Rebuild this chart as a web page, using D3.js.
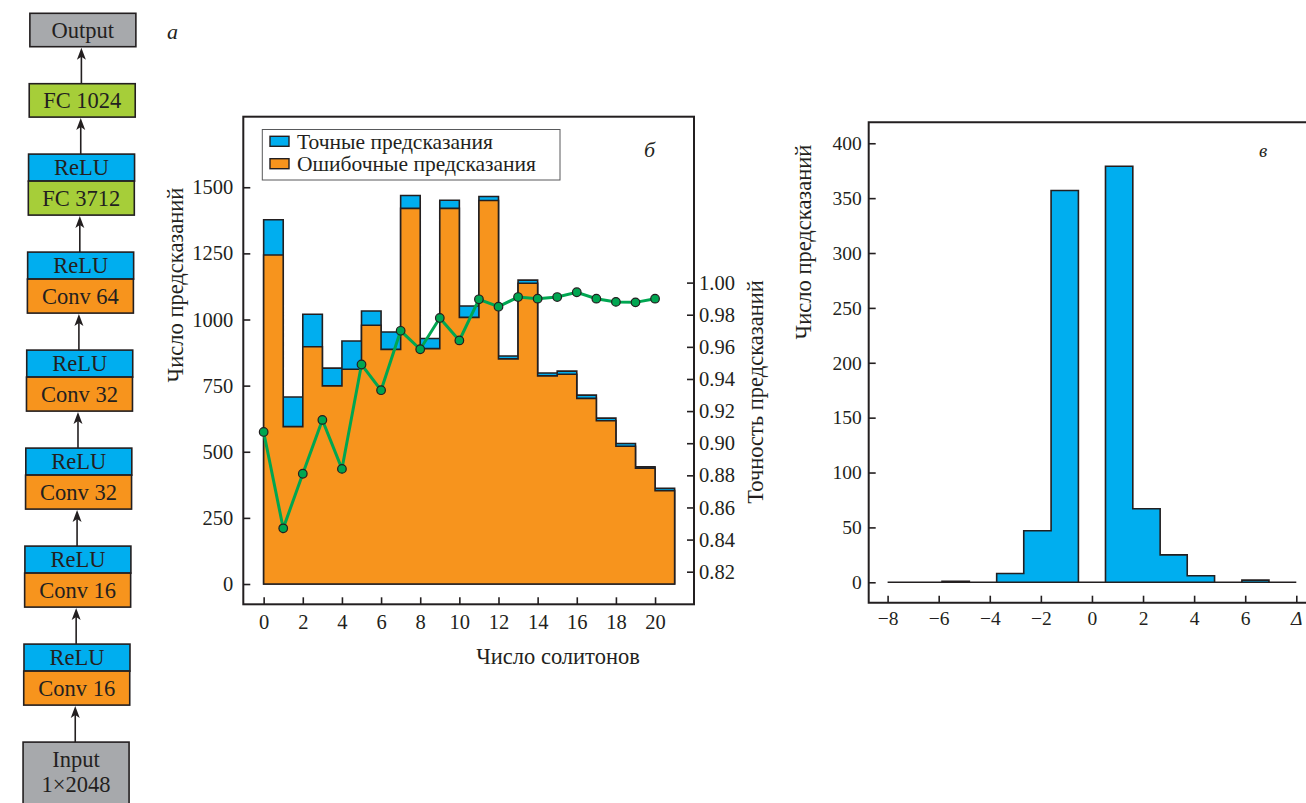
<!DOCTYPE html>
<html>
<head>
<meta charset="utf-8">
<script src="https://cdn.jsdelivr.net/npm/d3@7"></script>
<style>
  body { margin: 0; background: #fff; }
  svg text { font-family: "Liberation Serif", "DejaVu Serif", serif; fill: #231f20; }
</style>
</head>
<body>
<script>
// ---------- data ----------
// network diagram, top to bottom
const layerNames = ["Output", "FC 1024", "FC 3712", "Conv 64", "Conv 32", "Conv 32", "Conv 16", "Conv 16", "Input|1×2048"];
const layerKinds = ["io", "fc", "fc", "conv", "conv", "conv", "conv", "conv", "io"];
const layerRelu = [false, false, true, true, true, true, true, true, false];

// panel б: histogram over number of solitons
const solitons = [0, 1, 2, 3, 4, 5, 6, 7, 8, 9, 10, 11, 12, 13, 14, 15, 16, 17, 18, 19, 20];
const totalCounts = [1377, 707, 1020, 816, 919, 1032, 953, 1469, 928, 1451, 1051, 1465, 862, 1149, 798, 805, 714, 627, 531, 443, 362];
const orangeCounts = [1244, 595, 897, 749, 812, 978, 887, 1420, 890, 1420, 1008, 1450, 851, 1137, 787, 793, 702, 617, 521, 438, 353];
const accuracy = [0.907, 0.847, 0.881, 0.9145, 0.884, 0.949, 0.933, 0.970, 0.9585, 0.978, 0.964, 0.9896, 0.985, 0.991, 0.990, 0.991, 0.994, 0.990, 0.988, 0.9877, 0.990];
const countTicks = [0, 250, 500, 750, 1000, 1250, 1500];
const accTicks = [0.82, 0.84, 0.86, 0.88, 0.90, 0.92, 0.94, 0.96, 0.98, 1.00];
const solitonTicks = [0, 2, 4, 6, 8, 10, 12, 14, 16, 18, 20];

// panel в: histogram of error Δ
const deltaEdges = [-8, -6.93, -5.87, -4.8, -3.73, -2.67, -1.6, -0.53, 0.53, 1.6, 2.67, 3.73, 4.8, 5.87, 6.93, 8];
const deltaCounts = [0, 0, 1, 0, 8, 47, 357, 0, 379, 67, 25, 6, 0, 2, 0];
const deltaYTicks = [0, 50, 100, 150, 200, 250, 300, 350, 400];
const deltaXTicks = [-8, -6, -4, -2, 0, 2, 4, 6, 8];

const colors = { io: "#a7a9ac", fc: "#a6ce39", conv: "#f7941d", relu: "#00aeef" };
const ink = "#231f20";

const svg = d3.select("body").append("svg")
  .attr("width", 1306)
  .attr("height", 803);

// ---------- а: network diagram ----------
var skew = d3.scaleLinear().domain([0, 803]).range([30, 22.5]);
var boxW = 106, reluH = 27, mainH = 34, singleH = 33.4, gap = 37;
var yCur = 13.3;
var groups = [];
layerNames.forEach(function(name, i) {
  var top = yCur;
  var boxes = [];
  if (layerRelu[i]) {
    boxes.push({ y: yCur, h: reluH, label: ["ReLU"], fill: colors.relu });
    yCur += reluH;
    boxes.push({ y: yCur, h: mainH, label: [name], fill: colors[layerKinds[i]] });
    yCur += mainH;
  } else if (name.indexOf("|") >= 0) {
    // input block runs off the bottom of the page
    boxes.push({ y: yCur, h: 90, textMid: 30, label: name.split("|"), fill: colors[layerKinds[i]] });
    yCur += 90;
  } else {
    boxes.push({ y: yCur, h: singleH, label: [name], fill: colors[layerKinds[i]] });
    yCur += singleH;
  }
  groups.push({ top: top, bottom: yCur, boxes: boxes });
  yCur += gap;
});

var net = svg.append("g");
groups.forEach(function(g, gi) {
  g.boxes.forEach(function(b) {
    var x0 = skew(b.y);
    net.append("rect")
      .attr("x", x0).attr("y", b.y)
      .attr("width", boxW).attr("height", b.h)
      .attr("fill", b.fill)
      .attr("stroke", ink).attr("stroke-width", 1.6);
    var lh = 25;
    var midY = b.y + (b.textMid || b.h / 2);
    var first = midY - (b.label.length - 1) * lh / 2;
    b.label.forEach(function(t, k) {
      net.append("text")
        .attr("x", x0 + boxW / 2)
        .attr("y", first + k * lh)
        .attr("dy", "0.35em")
        .attr("text-anchor", "middle")
        .style("font-size", "22.5px")
        .text(t);
    });
  });
  // arrow from this group up to the one above
  if (gi > 0) {
    var up = groups[gi - 1];
    var ax = skew((up.bottom + g.top) / 2) + 52;
    var tip = up.bottom + 1;
    net.append("line")
      .attr("x1", ax).attr("x2", ax)
      .attr("y1", g.top).attr("y2", tip + 8)
      .attr("stroke", ink).attr("stroke-width", 1.6);
    net.append("path")
      .attr("d", "M" + ax + "," + tip + " L" + (ax + 4.5) + "," + (tip + 12) +
                 " L" + ax + "," + (tip + 9) + " L" + (ax - 4.5) + "," + (tip + 12) + " Z")
      .attr("fill", ink);
  }
});
svg.append("text")
  .attr("x", 167).attr("y", 39)
  .style("font-size", "22px").style("font-style", "italic")
  .text("а");

// ---------- б: soliton histogram ----------
var xMid = d3.scaleLinear().domain([-1.04, 21.99]).range([243.3, 694]);
var yCount = d3.scaleLinear().domain([-76.7, 1766.7]).range([604.3, 116.7]);
var yAcc = d3.scaleLinear().domain([0.7997, 1.1033]).range([604.3, 116.7]);

function steps(values) {
  var pts = values.map(function(v, i) { return [solitons[i], v]; });
  pts.push([solitons[values.length - 1] + 1, values[values.length - 1]]);
  return pts;
}
var stepArea = d3.area()
  .x(function(d) { return xMid(d[0]); })
  .y0(yCount(0))
  .y1(function(d) { return yCount(d[1]); })
  .curve(d3.curveStepAfter);

var mid = svg.append("g");
mid.append("path")
  .attr("d", stepArea(steps(totalCounts)))
  .attr("fill", colors.relu).attr("stroke", ink).attr("stroke-width", 1.6);
mid.append("path")
  .attr("d", stepArea(steps(orangeCounts)))
  .attr("fill", colors.conv).attr("stroke", ink).attr("stroke-width", 1.6);

// accuracy line
var accLine = d3.line()
  .x(function(d, i) { return xMid(solitons[i]); })
  .y(function(d) { return yAcc(d); });
mid.append("path")
  .attr("d", accLine(accuracy))
  .attr("fill", "none").attr("stroke", "#00a651").attr("stroke-width", 3);
mid.selectAll("circle.acc")
  .data(accuracy)
  .enter()
  .append("circle")
  .attr("class", "acc")
  .attr("cx", function(d, i) { return xMid(solitons[i]); })
  .attr("cy", function(d) { return yAcc(d); })
  .attr("r", 4.3)
  .attr("fill", "#00a651").attr("stroke", ink).attr("stroke-width", 1.2);

// frame
mid.append("rect")
  .attr("x", 243.3).attr("y", 116.7)
  .attr("width", 694 - 243.3).attr("height", 604.3 - 116.7)
  .attr("fill", "none").attr("stroke", ink).attr("stroke-width", 2);

function styleAxis(g, size) {
  g.select(".domain").remove();
  g.selectAll("line").attr("stroke", ink).attr("stroke-width", 1.6);
  g.attr("font-family", null).attr("font-size", null);
  g.selectAll("text").style("font-size", size + "px");
}

mid.append("g")
  .attr("transform", "translate(243.3,0)")
  .call(d3.axisLeft(yCount).tickValues(countTicks).tickSize(-7).tickPadding(10).tickFormat(d3.format("d")))
  .call(styleAxis, 20.5);
mid.append("g")
  .attr("transform", "translate(694,0)")
  .call(d3.axisRight(yAcc).tickValues(accTicks).tickSize(-7).tickPadding(5).tickFormat(d3.format(".2f")))
  .call(styleAxis, 20.5);
mid.append("g")
  .attr("transform", "translate(0,604.3)")
  .call(d3.axisBottom(xMid).tickValues(solitonTicks).tickSize(-7).tickPadding(10))
  .call(styleAxis, 20.5);

mid.append("text")
  .attr("x", 558).attr("y", 664)
  .attr("text-anchor", "middle")
  .style("font-size", "22.5px")
  .text("Число солитонов");
mid.append("text")
  .attr("transform", "translate(183,285) rotate(-90)")
  .attr("text-anchor", "middle")
  .style("font-size", "22.5px")
  .text("Число предсказаний");
mid.append("text")
  .attr("transform", "translate(763,392) rotate(-90)")
  .attr("text-anchor", "middle")
  .style("font-size", "22.5px")
  .text("Точность предсказаний");

// legend
var leg = mid.append("g");
leg.append("rect")
  .attr("x", 262.3).attr("y", 129.5)
  .attr("width", 560 - 262.3).attr("height", 50.5)
  .attr("fill", "#fff").attr("stroke", "#58595b").attr("stroke-width", 1);
[["Точные предсказания", colors.relu], ["Ошибочные предсказания", colors.conv]].forEach(function(it, k) {
  var cy = 141.3 + k * 22.4;
  leg.append("rect")
    .attr("x", 270).attr("y", cy - 5)
    .attr("width", 19).attr("height", 10)
    .attr("fill", it[1]).attr("stroke", ink).attr("stroke-width", 1.4);
  leg.append("text")
    .attr("x", 297).attr("y", cy)
    .attr("dy", "0.35em")
    .style("font-size", "21.5px")
    .text(it[0]);
});
mid.append("text")
  .attr("x", 644).attr("y", 157)
  .style("font-size", "22px").style("font-style", "italic")
  .text("б");

// ---------- в: Δ histogram ----------
var xDelta = d3.scaleLinear().domain([-8.74, 8.38]).range([868.7, 1306]);
var yDelta = d3.scaleLinear().domain([-18.6, 419.1]).range([602.7, 122.3]);

var deltaPts = deltaCounts.map(function(v, i) { return [deltaEdges[i], v]; });
deltaPts.push([deltaEdges[deltaEdges.length - 1], deltaCounts[deltaCounts.length - 1]]);

var right = svg.append("g");
right.append("path")
  .attr("d", d3.area()
    .x(function(d) { return xDelta(d[0]); })
    .y0(yDelta(0))
    .y1(function(d) { return yDelta(d[1]); })
    .curve(d3.curveStepAfter)(deltaPts))
  .attr("fill", colors.relu).attr("stroke", ink).attr("stroke-width", 1.6);

right.append("path")
  .attr("d", "M1306,122.3 H868.7 V602.7 H1306")
  .attr("fill", "none").attr("stroke", ink).attr("stroke-width", 2);

right.append("g")
  .attr("transform", "translate(868.7,0)")
  .call(d3.axisLeft(yDelta).tickValues(deltaYTicks).tickSize(-7).tickPadding(7))
  .call(styleAxis, 19.5);
var xg = right.append("g")
  .attr("transform", "translate(0,602.7)")
  .call(d3.axisBottom(xDelta).tickValues(deltaXTicks).tickSize(-7).tickPadding(8)
    .tickFormat(function(d) { return d === 8 ? "Δ" : d3.format("d")(d); }))
  .call(styleAxis, 19.5);
xg.selectAll("text").filter(function(d) { return d === 8; })
  .style("font-style", "italic");

right.append("text")
  .attr("transform", "translate(811,242) rotate(-90)")
  .attr("text-anchor", "middle")
  .style("font-size", "22.5px")
  .text("Число предсказаний");
right.append("text")
  .attr("x", 1259).attr("y", 157)
  .style("font-size", "19px").style("font-style", "italic")
  .text("в");
</script>
</body>
</html>
